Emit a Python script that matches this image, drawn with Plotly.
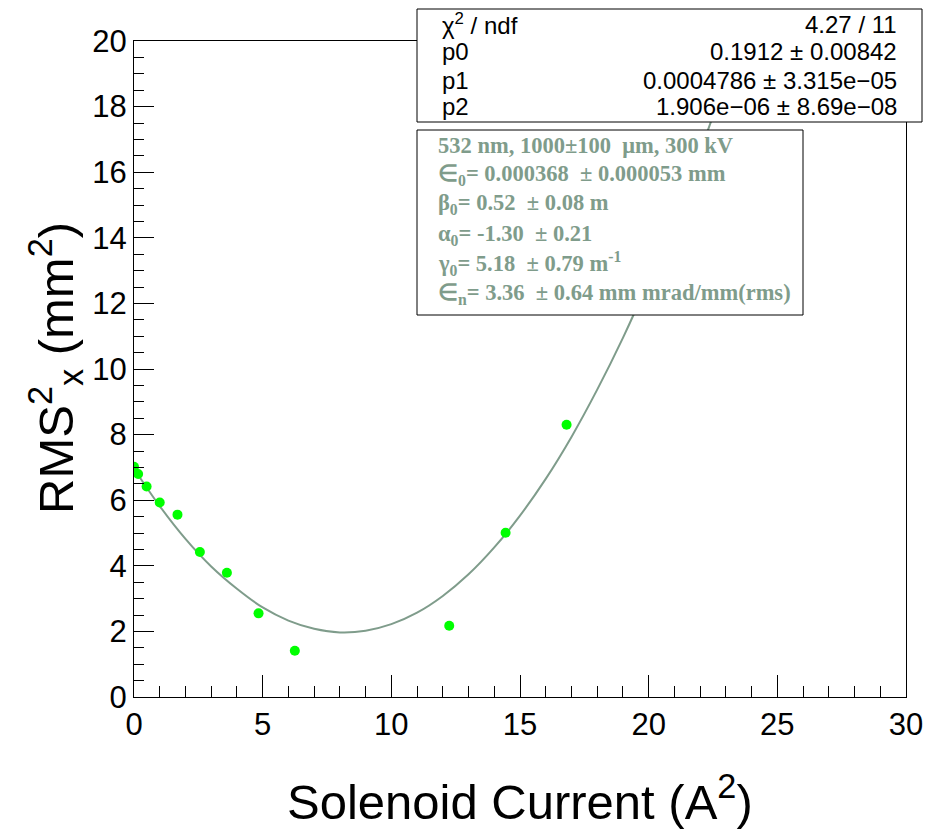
import plotly.graph_objects as go

# ---- data ----
current_sq = [0.0, 0.16, 0.49, 1.0, 1.69, 2.56, 3.61, 4.84, 6.25, 12.25, 14.44, 16.81]
rms_sq = [7.02, 6.80, 6.42, 5.93, 5.56, 4.42, 3.79, 2.55, 1.41, 2.17, 5.01, 8.30]

fit_x = [0, 1, 2, 3, 4, 5, 6, 7, 8, 9, 10, 11, 12, 13, 14, 15, 16, 17, 18, 19, 20, 21, 22, 23, 23.6]
fit_y = [6.96, 5.82, 4.82, 3.98, 3.30, 2.73, 2.33, 2.08, 1.97, 2.02, 2.22, 2.57, 3.08, 3.74,
         4.56, 5.53, 6.65, 7.93, 9.37, 10.95, 12.69, 14.58, 16.63, 18.84, 20.23]

stats_labels = ["χ<sup>2</sup> / ndf", "p0", "p1", "p2"]
stats_values = ["4.27 / 11", "0.1912 ± 0.00842", "0.0004786 ± 3.315e−05", "1.906e−06 ± 8.69e−08"]

info_lines = [
    "532 nm, 1000±100  μm, 300 kV",
    "∈<sub>0</sub>= 0.000368  ± 0.000053 mm",
    "β<sub>0</sub>= 0.52  ± 0.08 m",
    "α<sub>0</sub>= -1.30  ± 0.21",
    "γ<sub>0</sub>= 5.18  ± 0.79 m<sup>-1</sup>",
    "∈<sub>n</sub>= 3.36  ± 0.64 mm mrad/mm(rms)",
]

x_range = [0, 30]
y_range = [0, 20]

# ---- geometry in page pixels ----
W, H = 930, 831
PAGE_L, PAGE_R, PAGE_T, PAGE_B = 134, 906, 41, 697
L, T = PAGE_L, PAGE_T
R, B = W - PAGE_R, H - PAGE_B
PW, PH = W - L - R, H - T - B


def px(x):
    return (x - L) / PW


def py(y):
    return (H - B - y) / PH


curve_color = "#7f9c8b"
sans = "Liberation Sans, Arial, Helvetica, sans-serif"
serif = "Liberation Serif, Times New Roman, serif"

fig = go.Figure()
fig.add_trace(go.Scatter(x=fit_x, y=fit_y, mode="lines", line=dict(color=curve_color, width=2, shape="spline"),
                         showlegend=False, hoverinfo="skip"))
fig.add_trace(go.Scatter(x=current_sq, y=rms_sq, mode="markers",
                         marker=dict(color="#00ff00", size=10, line=dict(width=0)), showlegend=False))

shapes = [
    dict(type="rect", xref="paper", yref="paper", x0=px(417), x1=px(922), y0=py(122), y1=py(9),
         line=dict(color="black", width=1), fillcolor="white", layer="above"),
    dict(type="rect", xref="paper", yref="paper", x0=px(417), x1=px(803), y0=py(315), y1=py(130),
         line=dict(color="black", width=1), fillcolor="white", layer="above"),
]

annotations = []
stat_y = [24, 52, 80, 107]
for lab, val, yy in zip(stats_labels, stats_values, stat_y):
    annotations.append(dict(xref="paper", yref="paper", x=px(440), y=py(yy), text=lab, showarrow=False,
                            xanchor="left", yanchor="middle", font=dict(family=sans, size=24, color="black")))
    annotations.append(dict(xref="paper", yref="paper", x=px(899), y=py(yy), text=val, showarrow=False,
                            xanchor="right", yanchor="middle", font=dict(family=sans, size=24, color="black")))

info_y = [145, 175, 204, 235, 263, 294]
for line, yy in zip(info_lines, info_y):
    annotations.append(dict(xref="paper", yref="paper", x=px(436), y=py(yy), text="<b>" + line + "</b>",
                            showarrow=False, xanchor="left", yanchor="middle",
                            font=dict(family=serif, size=22.5, color=curve_color)))

annotations.append(dict(xref="paper", yref="paper", x=px(520), y=py(798),
                        text="Solenoid Current (A<sup>2</sup>)", showarrow=False,
                        xanchor="center", yanchor="middle", font=dict(family=sans, size=49, color="black")))
annotations.append(dict(xref="paper", yref="paper", x=px(55), y=py(368),
                        text="RMS<sup>2</sup><sub>x</sub> (mm<sup>2</sup>)", showarrow=False, textangle=-90,
                        xanchor="center", yanchor="middle", font=dict(family=sans, size=49, color="black")))

fig.update_layout(
    width=W, height=H, autosize=False,
    margin=dict(l=L, r=R, t=T, b=B, pad=0, autoexpand=False),
    paper_bgcolor="white", plot_bgcolor="white",
    shapes=shapes, annotations=annotations, showlegend=False,
    xaxis=dict(range=x_range, dtick=5, tick0=0, ticks="inside", ticklen=22, tickwidth=1, tickcolor="black",
               minor=dict(dtick=1, ticks="inside", ticklen=11, tickcolor="black", tickwidth=1),
               showline=True, linecolor="black", linewidth=1, mirror=True, showgrid=False, zeroline=False,
               automargin=False, tickfont=dict(family=sans, size=31, color="black")),
    yaxis=dict(range=y_range, dtick=2, tick0=0, ticks="inside", ticklen=20, tickwidth=1, tickcolor="black",
               minor=dict(dtick=0.5, ticks="inside", ticklen=10, tickcolor="black", tickwidth=1),
               showline=True, linecolor="black", linewidth=1, mirror=True, showgrid=False, zeroline=False,
               automargin=False, tickfont=dict(family=sans, size=31, color="black")),
)

fig.write_html("out.html", config={"displayModeBar": False},
               post_script="document.body.style.margin='0';document.body.style.overflow='hidden';")
